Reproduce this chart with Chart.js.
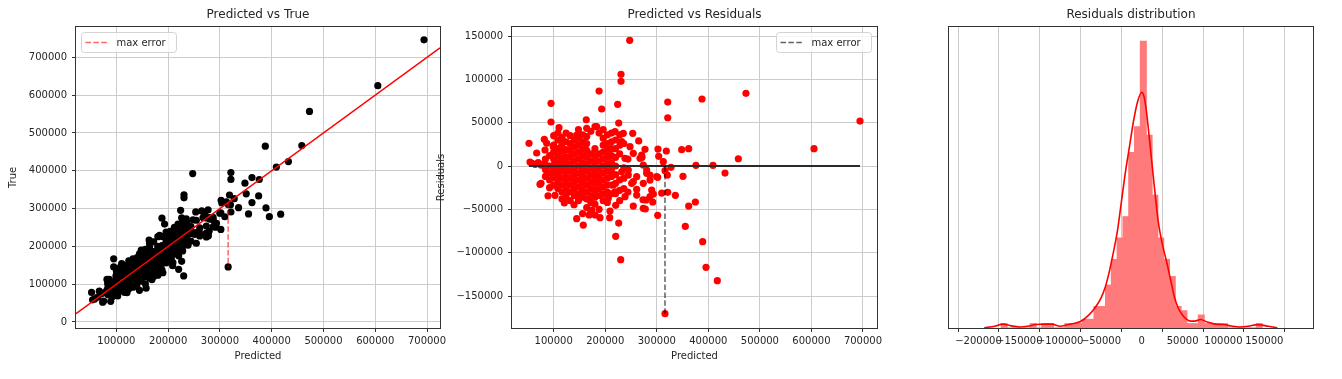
<!DOCTYPE html>
<html><head><meta charset="utf-8">
<script src="https://cdn.jsdelivr.net/npm/chart.js@4.4.0/dist/chart.umd.min.js"></script>
<style>
html,body{margin:0;padding:0;background:#fff;}
#wrap{position:relative;width:1342px;height:379px;overflow:hidden;background:#fff;}
canvas{position:absolute;top:0;}
</style></head><body>
<div id="wrap">
<canvas id="c1" width="450" height="379" style="left:0px"></canvas>
<canvas id="c2" width="460" height="379" style="left:430px"></canvas>
<canvas id="c3" width="452" height="379" style="left:890px"></canvas>
</div>
<script>
// ---------- DATA ----------
// predicted sale price of each test sample
const predicted = [
247400,230600,230600,188000,94800,224100,193100,321200,321200,387700,
473000,694200,605000,458200,409000,376000,432300,348300,361900,350800,
336000,374800,361900,355300,389000,395500,417400,315900,230000,220300,
226100,208600,189800,144600,157400,301800,277700,220300,52100,54000,
67000,94800,110300,163200,226100,73400,89000,102500,120600,139400,
299800,309500,321200,320400,327600,318500,302300,303700,271300,277100,
264900,253300,273200,292100,
312600,316000,261000,279100,286800,228600,267400,254400,280400,286800,
273800,261000,290100,293300,254400,244700,231900,215600,219000,205900,
86400,81800,83100,99200,115500,144600,164000,180100,219000,235000,
270700,273800,280400,286800,75400,173700,168700,180300,238300,251300,
261000,244700,238300,248000,231900,254400,273800,301700,183400,209200,
58000,64000,70000,76000,82000,88000,84000,84000,84000,92000,
92000,92000,92000,92000,
100000,100000,100000,100000,100000,100000,100000,100000,
108000,108000,108000,108000,108000,108000,108000,108000,108000,
116000,116000,116000,116000,116000,116000,116000,116000,116000,116000,
124000,124000,124000,124000,124000,124000,124000,124000,124000,124000,
132000,132000,132000,132000,132000,132000,132000,132000,132000,132000,
140000,140000,140000,140000,140000,140000,140000,140000,140000,
148000,148000,148000,148000,148000,148000,148000,148000,148000,148000,148000,
156000,156000,156000,156000,156000,156000,156000,156000,156000,156000,156000,
164000,164000,164000,164000,164000,164000,164000,164000,164000,164000,164000,
172000,172000,172000,172000,172000,172000,172000,172000,172000,172000,
180000,180000,180000,180000,180000,180000,180000,180000,180000,
188000,188000,188000,188000,188000,188000,188000,188000,188000,
196000,196000,196000,196000,196000,196000,196000,196000,196000,196000,196000,
204000,204000,204000,204000,204000,204000,204000,204000,204000,204000,
212000,212000,212000,212000,212000,212000,212000,212000,212000,
220000,220000,220000,220000,220000,220000,220000,
228000,228000,228000,228000,228000,
236000,236000,236000,236000,
244000,244000
];
// residual (true - predicted) of each test sample, same order
const residuals = [
145000,105800,97700,86500,72300,71200,65800,73800,55700,77300,
83900,51900,20000,8400,800,800,-8100,18800,20000,-11900,
-33800,-41500,-46200,-69600,-87300,-116900,-132300,-170400,-108100,-81100,
-65800,-59600,-59600,-60800,-68100,-56900,-49600,-45400,26200,4600,
15000,50800,44200,53400,49600,-21100,-34300,-33800,-42700,-44700,
-12300,-31200,-30400,-10400,-1500,17300,19600,11200,10000,19300,
28900,37700,-38900,-41500,
5000,-5400,-33500,-39200,-35400,24200,8900,14700,-4600,-10400,
-20000,-26900,-27700,-32300,-18100,-10400,-6600,-21900,-29700,-37300,
26200,30800,18500,22300,30800,35800,43500,45400,39600,37700,
12700,1200,-8400,-16200,-20000,-50800,-56500,-56500,-35400,-20000,
-12300,-4600,8900,22300,28100,-46200,-48800,-13000,45400,-52000,
3000,2000,4000,1000,3000,0,8000,-4000,-12000,12000,
-8000,-16000,-25000,0,
35000,24000,16000,8000,1000,-6000,-13000,-22000,
38000,30000,20000,12000,4000,-3000,-10000,-18000,-26000,
33000,25000,17000,9000,2000,-6000,-14000,-22000,-30000,-38000,
38000,28000,19000,11000,4000,-4000,-12000,-20000,-28000,-36000,
35000,26000,18000,10000,2000,-6000,-14000,-22000,-30000,-40000,
30000,22000,14000,6000,-2000,-10000,-18000,-26000,-34000,
42000,32000,24000,16000,8000,0,-8000,-16000,-24000,-32000,-40000,
36000,28000,20000,12000,4000,-4000,-12000,-20000,-28000,-36000,-55000,
34000,26000,18000,10000,2000,-6000,-14000,-22000,-30000,-38000,-48000,
40000,14000,6000,-2000,-10000,-18000,-26000,-34000,-42000,-52000,
20000,12000,4000,-4000,-12000,-20000,-28000,-36000,-44000,
38000,14000,6000,-2000,-10000,-18000,-26000,-34000,-50000,
42000,32000,24000,16000,8000,0,-8000,-16000,-24000,-32000,-40000,
36000,26000,18000,10000,2000,-6000,-14000,-22000,-30000,-42000,
38000,28000,20000,12000,4000,-4000,-12000,-22000,-32000,
30000,20000,10000,0,-10000,-20000,-32000,
36000,14000,-16000,-28000,-40000,
26000,-2000,-14000,-26000,
8000,-30000
];
// histogram of residuals: first bin edge, bin width, counts per bin
const histStart = -172100;
const histWidth = 7100;
const histCounts = [1,0,0,0,0,1,0,1,1,0,0,1,1,1,2,2,5,5,10,16,21,26,41,47,
                    67,45,31,21,16,12,5,4,1,1,3,1,1,1,1,0,0,0,0,0,1];
// kernel density curve (same units as the histogram counts)
const kdeX = [-193000,-180000,-170000,-160000,-150000,-140000,-130000,-120000,-110000,-100000,
              -92000,-85000,-75000,-65000,-57000,-50000,-45000,-40000,-35000,-30000,
              -25000,-20000,-15000,-10000,-5000,0,2000,5000,10000,15000,
              20000,25000,30000,35000,40000,45000,50000,55000,60000,65000,
              72000,80000,90000,100000,110000,120000,130000,142000,155000,166000];
const kdeY = [0.05,0.4,0.9,0.5,0.25,0.4,0.8,0.9,0.9,0.4,
              0.7,1.0,1.5,3.0,4.8,7.0,9.4,13.0,17.5,22.5,
              29.5,36.5,42.5,48.5,53.0,55.1,54.6,51.6,43.0,33.7,
              25.1,19.7,15.8,11.5,7.2,4.5,3.0,2.0,1.6,1.6,
              2.0,1.4,0.9,0.8,0.45,0.25,0.4,0.8,0.4,0.05];
// tick values
const ticks1X = [100000,200000,300000,400000,500000,600000,700000];
const ticks1Y = [0,100000,200000,300000,400000,500000,600000,700000];
const ticks2X = [100000,200000,300000,400000,500000,600000,700000];
const ticks2Y = [-150000,-100000,-50000,0,50000,100000,150000];
const ticks3X = [-200000,-150000,-100000,-50000,0,50000,100000,150000];
const titles = ['Predicted vs True','Predicted vs Residuals','Residuals distribution'];

// ---------- derived ----------
const n = Math.min(predicted.length, residuals.length);
const actual = [];
for (let i = 0; i < n; i++) actual.push(predicted[i] + residuals[i]);
let iMax = 0;
for (let i = 0; i < n; i++) if (Math.abs(residuals[i]) > Math.abs(residuals[iMax])) iMax = i;
const minPred = Math.min(...predicted.slice(0, n)), maxPred = Math.max(...predicted.slice(0, n));

// ---------- chart setup ----------
Chart.defaults.font.family = "'DejaVu Sans', sans-serif";
Chart.defaults.font.size = 10;
Chart.defaults.color = '#262626';
Chart.defaults.animation = false;
Chart.defaults.responsive = false;
Chart.defaults.devicePixelRatio = 1;
Chart.defaults.events = [];
Chart.defaults.plugins.legend.display = false;
Chart.defaults.plugins.tooltip.enabled = false;

const fmt = v => (v < 0 ? '\u2212' : '') + Math.abs(v);
const TXT = '#262626';
function axis(tickArr, min, max, fit, horizontal, title, titlePad) {
  return {
    type: 'linear', min: min, max: max,
    afterBuildTicks: s => { s.ticks = tickArr.map(v => ({value: v})); },
    afterFit: s => { if (horizontal) s.height = fit; else s.width = fit; },
    ticks: {callback: fmt, autoSkip: false, maxRotation: 0, minRotation: 0,
            padding: horizontal ? 3 : 5, color: TXT, font: {size: 10}},
    grid: {color: '#cccccc', lineWidth: 1, tickColor: '#333333', tickLength: 4, drawTicks: true},
    border: {display: false},
    title: title ? {display: true, text: title, color: TXT, font: {size: 10}, padding: titlePad} : {display: false}
  };
}

const decor = {
  id: 'decor',
  afterDraw(chart, args, opts) {
    const ctx = chart.ctx, a = chart.chartArea;
    ctx.save();
    ctx.strokeStyle = '#333333'; ctx.lineWidth = 1;
    ctx.strokeRect(a.left - 0.5, a.top - 0.5, a.right - a.left + 1, a.bottom - a.top + 1);
    ctx.fillStyle = TXT; ctx.font = "12px 'DejaVu Sans'";
    ctx.textAlign = 'center'; ctx.textBaseline = 'middle';
    ctx.fillText(opts.title, (a.left + a.right) / 2, 15);
    if (opts.legend) {
      const ds = chart.data.datasets.find(d => d.label === opts.legend.label);
      const w = 95, h = 20;
      const x = opts.legend.side === 'left' ? a.left + 5.5 : a.right - 5.5 - w;
      const y = a.top + 5.5;
      ctx.beginPath();
      if (ctx.roundRect) ctx.roundRect(x, y, w, h, 3); else ctx.rect(x, y, w, h);
      ctx.fillStyle = 'rgba(255,255,255,0.8)'; ctx.fill();
      ctx.strokeStyle = '#d3d3d3'; ctx.lineWidth = 1; ctx.stroke();
      ctx.beginPath(); ctx.setLineDash(ds.borderDash || []);
      ctx.strokeStyle = ds.borderColor; ctx.lineWidth = ds.borderWidth;
      ctx.moveTo(x + 4, y + h / 2); ctx.lineTo(x + 27, y + h / 2); ctx.stroke();
      ctx.setLineDash([]);
      ctx.fillStyle = TXT; ctx.font = "10px 'DejaVu Sans'";
      ctx.textAlign = 'left'; ctx.textBaseline = 'middle';
      ctx.fillText(ds.label, x + 35, y + h / 2 + 0.5);
    }
    ctx.restore();
  }
};

// ---- Plot 1: Predicted vs True ----
const X1 = [22000, 725100], Y1 = [-15900, 780100];
new Chart(document.getElementById('c1'), {
  type: 'scatter',
  data: {datasets: [
    {label: 'max error', showLine: true, order: 0,
     data: [{x: predicted[iMax], y: predicted[iMax]}, {x: predicted[iMax], y: actual[iMax]}],
     borderColor: 'rgba(255,0,0,0.6)', borderDash: [5.5, 2.4], borderWidth: 1.5, pointRadius: 0},
    {label: 'identity', showLine: true, order: 1,
     data: [{x: X1[0], y: X1[0]}, {x: X1[1], y: X1[1]}],
     borderColor: '#ff0000', borderWidth: 1.5, pointRadius: 0},
    {label: 'samples', order: 2,
     data: predicted.slice(0, n).map((p, i) => ({x: p, y: actual[i]})),
     backgroundColor: '#000000', borderWidth: 0, pointRadius: 3.6}
  ]},
  options: {
    layout: {padding: {left: 0, right: 10, top: 27, bottom: 0}},
    scales: {
      x: axis(ticks1X, X1[0], X1[1], 51, true, 'Predicted', {top: 0, bottom: 17}),
      y: axis(ticks1Y, Y1[0], Y1[1], 76, false, 'True', {top: 7.3, bottom: 0})
    },
    plugins: {decor: {title: titles[0], legend: {label: 'max error', side: 'left'}}}
  },
  plugins: [decor]
});

// ---- Plot 2: Predicted vs Residuals ----
const X2 = [19100, 727200], Y2 = [-186900, 160400];
new Chart(document.getElementById('c2'), {
  type: 'scatter',
  data: {datasets: [
    {label: 'max error', showLine: true, order: 0,
     data: [{x: predicted[iMax], y: 0}, {x: predicted[iMax], y: residuals[iMax]}],
     borderColor: 'rgba(0,0,0,0.62)', borderDash: [5.5, 2.4], borderWidth: 1.5, pointRadius: 0},
    {label: 'zero', showLine: true, order: 1,
     data: [{x: minPred, y: 0}, {x: maxPred, y: 0}],
     borderColor: '#2a2a2a', borderWidth: 2, pointRadius: 0},
    {label: 'samples', order: 2,
     data: predicted.slice(0, n).map((p, i) => ({x: p, y: residuals[i]})),
     backgroundColor: '#ff0000', borderWidth: 0, pointRadius: 3.6}
  ]},
  options: {
    layout: {padding: {left: 0, right: 13, top: 27, bottom: 0}},
    scales: {
      x: axis(ticks2X, X2[0], X2[1], 51, true, 'Predicted', {top: 0, bottom: 17}),
      y: axis(ticks2Y, Y2[0], Y2[1], 82, false, 'Residuals', {top: 5.7, bottom: 0})
    },
    plugins: {decor: {title: titles[1], legend: {label: 'max error', side: 'right'}}}
  },
  plugins: [decor]
});

// ---- Plot 3: Residuals distribution ----
const X3 = [-208250, 181800];
const histMax = Math.max(...histCounts);
new Chart(document.getElementById('c3'), {
  type: 'bar',
  data: {datasets: [
    {type: 'line', label: 'kde', order: 0,
     data: kdeX.map((x, i) => ({x: x, y: kdeY[i]})),
     borderColor: '#ff0000', borderWidth: 1.6, pointRadius: 0, cubicInterpolationMode: 'monotone', fill: false},
    {type: 'bar', label: 'hist', order: 1,
     data: histCounts.map((c, i) => ({x: histStart + histWidth * (i + 0.5), y: c})),
     backgroundColor: 'rgb(255,122,122)', borderWidth: 0, inflateAmount: 0.6,
     barPercentage: 1, categoryPercentage: 1}
  ]},
  options: {
    layout: {padding: {left: 59, right: 29, top: 27, bottom: 0}},
    scales: {
      x: axis(ticks3X, X3[0], X3[1], 51, true, null, null),
      y: {type: 'linear', display: false, min: 0, max: histMax * 1.05}
    },
    plugins: {decor: {title: titles[2]}}
  },
  plugins: [decor]
});
</script>
</body></html>
